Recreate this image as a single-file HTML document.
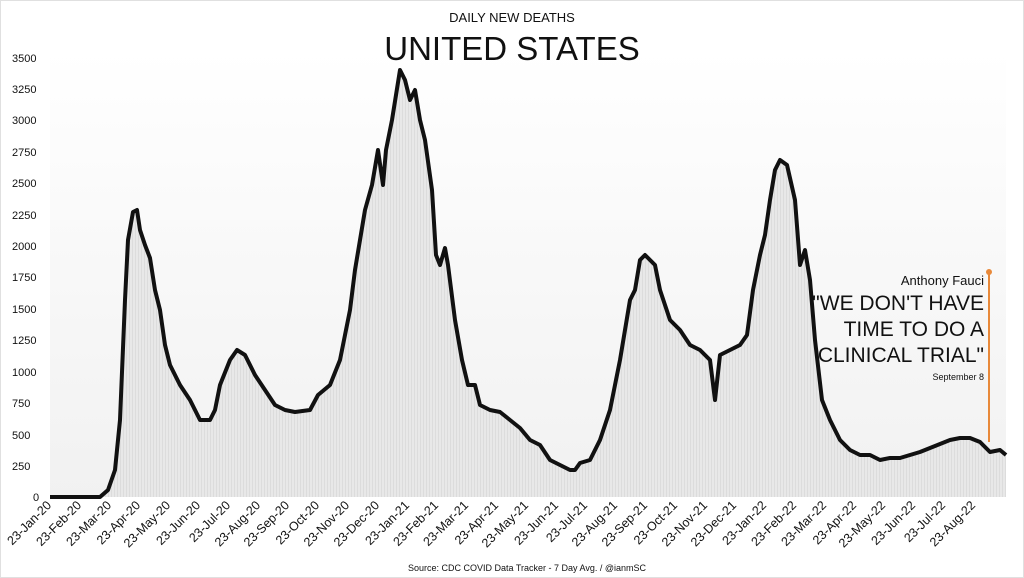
<!DOCTYPE html>
<html><head><meta charset="utf-8"><style>
html,body{margin:0;padding:0;background:#fff;}
svg{display:block;font-family:"Liberation Sans",sans-serif;}
</style></head><body>
<svg width="1024" height="578" viewBox="0 0 1024 578" xmlns="http://www.w3.org/2000/svg">
<defs>
<linearGradient id="bg" x1="0" y1="0" x2="0" y2="1">
<stop offset="0" stop-color="#ffffff"/><stop offset="1" stop-color="#f1f1f1"/>
</linearGradient>
<pattern id="vl" width="3" height="10" patternUnits="userSpaceOnUse"><rect width="3" height="10" fill="#e8e8e8"/><rect width="1" height="10" fill="#dcdcdc"/></pattern>
</defs>
<rect x="0.5" y="0.5" width="1023" height="577" fill="#fff" stroke="#e0e0e0"/>
<rect x="50" y="50" width="956" height="447" fill="url(#bg)"/>
<text x="512" y="22" font-size="13" text-anchor="middle" fill="#111">DAILY NEW DEATHS</text>
<text x="512" y="60" font-size="33" text-anchor="middle" fill="#111">UNITED STATES</text>
<g font-size="11" fill="#111">
<text x="12" y="62">3500</text><text x="12" y="93">3250</text><text x="12" y="124">3000</text>
<text x="12" y="156">2750</text><text x="12" y="187">2500</text><text x="12" y="219">2250</text>
<text x="12" y="250">2000</text><text x="12" y="281">1750</text><text x="12" y="313">1500</text>
<text x="12" y="344">1250</text><text x="12" y="376">1000</text><text x="12" y="407">750</text>
<text x="12" y="439">500</text><text x="12" y="470">250</text><text x="33" y="501">0</text>
</g>
<path d="M50,497 L100,497 108,490 115,470 120,420 125,300 128,240 133,212 137,210 140,230 145,245 150,258 155,290 160,310 165,345 170,365 180,385 190,400 200,420 210,420 215,410 220,385 230,360 237,350 245,355 255,375 265,390 275,405 285,410 295,412 310,410 318,395 330,385 340,360 350,310 355,270 360,240 365,210 372,185 378,150 383,185 386,150 392,120 400,70 405,80 410,100 415,90 420,120 425,140 432,190 436,255 440,265 445,248 448,265 455,320 462,360 468,385 475,385 480,405 490,410 500,412 510,420 520,428 530,440 540,445 550,460 560,465 570,470 575,470 580,463 590,460 600,440 610,410 620,360 630,300 635,290 640,260 645,255 655,265 660,290 670,320 680,330 690,345 700,350 710,360 715,400 720,355 730,350 740,345 747,335 753,290 760,255 765,235 770,200 775,170 780,160 787,165 795,200 800,265 805,250 810,280 815,340 822,400 830,420 840,440 850,450 860,455 870,455 880,460 890,458 900,458 910,455 920,452 930,448 940,444 950,440 960,438 970,438 980,442 990,452 1000,450 1006,455 L1006,497 Z" fill="url(#vl)"/>
<path d="M50,497 L100,497 108,490 115,470 120,420 125,300 128,240 133,212 137,210 140,230 145,245 150,258 155,290 160,310 165,345 170,365 180,385 190,400 200,420 210,420 215,410 220,385 230,360 237,350 245,355 255,375 265,390 275,405 285,410 295,412 310,410 318,395 330,385 340,360 350,310 355,270 360,240 365,210 372,185 378,150 383,185 386,150 392,120 400,70 405,80 410,100 415,90 420,120 425,140 432,190 436,255 440,265 445,248 448,265 455,320 462,360 468,385 475,385 480,405 490,410 500,412 510,420 520,428 530,440 540,445 550,460 560,465 570,470 575,470 580,463 590,460 600,440 610,410 620,360 630,300 635,290 640,260 645,255 655,265 660,290 670,320 680,330 690,345 700,350 710,360 715,400 720,355 730,350 740,345 747,335 753,290 760,255 765,235 770,200 775,170 780,160 787,165 795,200 800,265 805,250 810,280 815,340 822,400 830,420 840,440 850,450 860,455 870,455 880,460 890,458 900,458 910,455 920,452 930,448 940,444 950,440 960,438 970,438 980,442 990,452 1000,450 1006,455" fill="none" stroke="#111" stroke-width="4" stroke-linejoin="round"/>
<line x1="989" y1="272" x2="989" y2="442" stroke="#e8893a" stroke-width="2"/>
<circle cx="989" cy="272" r="3" fill="#e8893a"/>
<g fill="#111" text-anchor="end">
<text x="984" y="285" font-size="13">Anthony Fauci</text>
<text x="984" y="310" font-size="21">"WE DON'T HAVE</text>
<text x="984" y="336" font-size="21">TIME TO DO A</text>
<text x="984" y="362" font-size="21">CLINICAL TRIAL"</text>
<text x="984" y="380" font-size="9">September 8</text>
</g>
<g font-size="12.5" fill="#111" text-anchor="end">
<text transform="translate(52,506) rotate(-45)">23-Jan-20</text>
<text transform="translate(82,506) rotate(-45)">23-Feb-20</text>
<text transform="translate(112,506) rotate(-45)">23-Mar-20</text>
<text transform="translate(141,506) rotate(-45)">23-Apr-20</text>
<text transform="translate(171,506) rotate(-45)">23-May-20</text>
<text transform="translate(201,506) rotate(-45)">23-Jun-20</text>
<text transform="translate(231,506) rotate(-45)">23-Jul-20</text>
<text transform="translate(261,506) rotate(-45)">23-Aug-20</text>
<text transform="translate(290,506) rotate(-45)">23-Sep-20</text>
<text transform="translate(320,506) rotate(-45)">23-Oct-20</text>
<text transform="translate(350,506) rotate(-45)">23-Nov-20</text>
<text transform="translate(380,506) rotate(-45)">23-Dec-20</text>
<text transform="translate(410,506) rotate(-45)">23-Jan-21</text>
<text transform="translate(439,506) rotate(-45)">23-Feb-21</text>
<text transform="translate(469,506) rotate(-45)">23-Mar-21</text>
<text transform="translate(499,506) rotate(-45)">23-Apr-21</text>
<text transform="translate(529,506) rotate(-45)">23-May-21</text>
<text transform="translate(559,506) rotate(-45)">23-Jun-21</text>
<text transform="translate(588,506) rotate(-45)">23-Jul-21</text>
<text transform="translate(618,506) rotate(-45)">23-Aug-21</text>
<text transform="translate(648,506) rotate(-45)">23-Sep-21</text>
<text transform="translate(678,506) rotate(-45)">23-Oct-21</text>
<text transform="translate(708,506) rotate(-45)">23-Nov-21</text>
<text transform="translate(737,506) rotate(-45)">23-Dec-21</text>
<text transform="translate(767,506) rotate(-45)">23-Jan-22</text>
<text transform="translate(797,506) rotate(-45)">23-Feb-22</text>
<text transform="translate(827,506) rotate(-45)">23-Mar-22</text>
<text transform="translate(857,506) rotate(-45)">23-Apr-22</text>
<text transform="translate(886,506) rotate(-45)">23-May-22</text>
<text transform="translate(916,506) rotate(-45)">23-Jun-22</text>
<text transform="translate(946,506) rotate(-45)">23-Jul-22</text>
<text transform="translate(976,506) rotate(-45)">23-Aug-22</text>
</g>
<text x="527" y="571" font-size="9" text-anchor="middle" fill="#111">Source: CDC COVID Data Tracker - 7 Day Avg. / @ianmSC</text>
</svg>
</body></html>
